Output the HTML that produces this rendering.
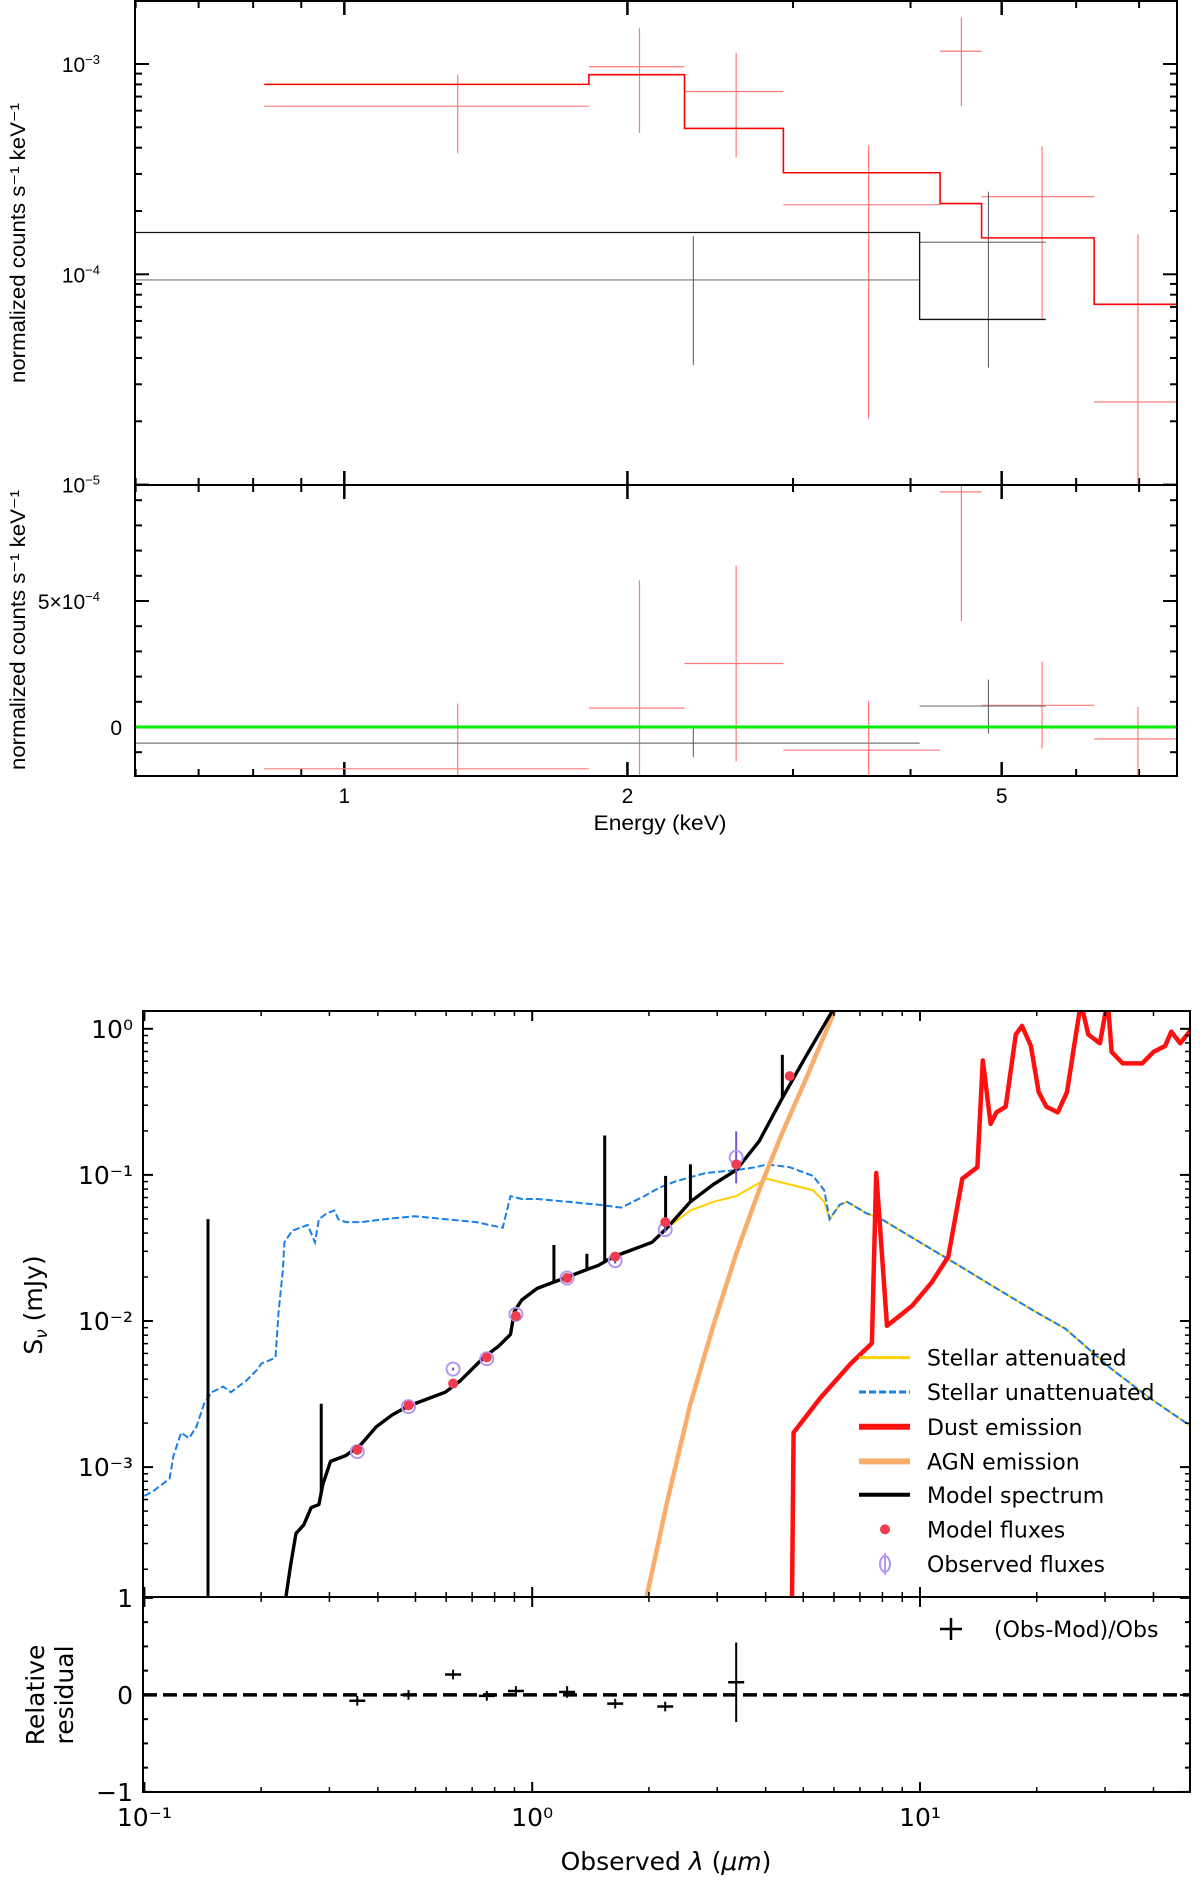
<!DOCTYPE html>
<html><head><meta charset="utf-8"><style>
html,body{margin:0;padding:0;background:#fff}
svg{display:block}
</style></head><body>
<svg id="chart" width="1200" height="1904" viewBox="0 0 1200 1904" xmlns="http://www.w3.org/2000/svg">
<defs>
<clipPath id="cxt"><rect x="135" y="1" width="1042" height="484"/></clipPath>
<clipPath id="cxb"><rect x="135" y="485" width="1042" height="291"/></clipPath>
<clipPath id="cst"><rect x="143" y="1011" width="1047" height="586"/></clipPath>
<clipPath id="csb"><rect x="143" y="1597" width="1047" height="195"/></clipPath>
</defs>
<g id="xray" font-family="Liberation Sans, sans-serif" font-size="20"></g>
<g id="sed" font-family="DejaVu Sans, sans-serif"></g>
</svg>
<script>
// ===== X-ray spectrum data =====
const redModelEdges=[0.822,1.82,2.30,2.93,4.30,4.76,6.27,7.68];
const redModelVals=[8.0e-4,8.9e-4,4.94e-4,3.04e-4,2.17e-4,1.49e-4,7.2e-5];
const blackModelEdges=[0.599,4.09,5.57];
const blackModelVals=[1.58e-4,6.1e-5];
const redLo=[0.822,1.82,2.30,2.93,4.30,4.76,6.27];
const redHi=[1.82,2.30,2.93,4.30,4.76,6.27,7.68];
const redE=[1.32,2.06,2.61,3.61,4.53,5.52,6.98];
const redV=[6.3e-4,9.7e-4,7.4e-4,2.14e-4,1.15e-3,2.34e-4,2.47e-5];
const redVlo=[3.76e-4,4.7e-4,3.6e-4,2.06e-5,6.3e-4,6.1e-5,5e-6];
const redVhi=[8.9e-4,1.48e-3,1.13e-3,4.1e-4,1.66e-3,4.06e-4,1.55e-4];
const blkLo=[0.599,4.09];
const blkHi=[4.09,5.57];
const blkE=[2.35,4.84];
const blkV=[9.4e-5,1.42e-4];
const blkVlo=[3.7e-5,3.6e-5];
const blkVhi=[1.52e-4,2.47e-4];
const redR=[-1.66e-4,0.75e-4,2.52e-4,-0.92e-4,9.33e-4,0.86e-4,-0.47e-4];
const redRlo=[-3e-4,-3e-4,-1.36e-4,-3e-4,4.2e-4,-0.86e-4,-3e-4];
const redRhi=[0.93e-4,5.82e-4,6.4e-4,1.03e-4,1.2e-3,2.59e-4,0.8e-4];
const blkR=[-0.64e-4,0.83e-4];
const blkRlo=[-1.2e-4,-0.26e-4];
const blkRhi=[-0.06e-4,1.88e-4];
const xrXTicks=[1,2,5];
const xrXTickLabels=["1","2","5"];
const xrXMinor=[0.6,0.7,0.8,0.9,3,4,6,7];

// ===== SED data (log10 wavelength in µm, log10 flux in mJy) =====
const unattLogLam=[-1.00,-0.974,-0.935,-0.925,-0.905,-0.885,-0.866,-0.846,-0.826,-0.797,-0.777,-0.737,-0.708,-0.698,-0.678,-0.662,-0.654,-0.643,-0.639,-0.619,-0.599,-0.579,-0.560,-0.550,-0.530,-0.510,-0.500,-0.481,-0.441,-0.382,-0.303,-0.224,-0.145,-0.076,-0.056,-0.027,0.013,0.092,0.171,0.230,0.289,0.329,0.368,0.447,0.526,0.576,0.605,0.664,0.724,0.753,0.767,0.793,0.812,0.862,0.901,1.000,1.099,1.197,1.296,1.375,1.494,1.592,1.701];
const unattLogFlux=[-3.198,-3.158,-3.079,-2.921,-2.764,-2.803,-2.724,-2.566,-2.487,-2.448,-2.487,-2.408,-2.329,-2.290,-2.270,-2.250,-1.934,-1.658,-1.461,-1.382,-1.362,-1.342,-1.461,-1.303,-1.263,-1.244,-1.303,-1.323,-1.323,-1.303,-1.283,-1.303,-1.323,-1.362,-1.145,-1.165,-1.165,-1.184,-1.204,-1.224,-1.145,-1.086,-1.046,-0.987,-0.967,-0.947,-0.928,-0.947,-1.007,-1.105,-1.303,-1.204,-1.184,-1.263,-1.303,-1.461,-1.618,-1.777,-1.934,-2.053,-2.329,-2.527,-2.724];
const modelLogLam=[-0.635,-0.623,-0.609,-0.589,-0.570,-0.550,-0.540,-0.520,-0.481,-0.441,-0.402,-0.362,-0.323,-0.264,-0.224,-0.185,-0.125,-0.086,-0.056,-0.046,-0.027,0.013,0.052,0.092,0.131,0.171,0.210,0.250,0.309,0.348,0.408,0.467,0.526,0.585,0.645,0.704,0.773];
const modelLogFlux=[-3.889,-3.672,-3.454,-3.395,-3.277,-3.257,-3.119,-2.961,-2.921,-2.843,-2.724,-2.645,-2.586,-2.527,-2.487,-2.408,-2.250,-2.171,-2.092,-1.934,-1.856,-1.777,-1.737,-1.698,-1.658,-1.619,-1.559,-1.520,-1.461,-1.362,-1.184,-1.066,-0.967,-0.770,-0.474,-0.197,0.118];
const lineLogLam=[-0.836,-0.544,0.056,0.141,0.187,0.344,0.408,0.645];
const lineLogTop=[-1.303,-2.566,-1.480,-1.540,-0.730,-1.007,-0.928,-0.178];
const attTailLogLam=[0.408,0.467,0.526,0.605,0.664,0.724,0.753,0.767,0.793,0.812,0.862];
const attTailLogFlux=[-1.244,-1.184,-1.145,-1.026,-1.066,-1.105,-1.184,-1.303,-1.204,-1.184,-1.263];
const agnLogLam=[0.295,0.348,0.408,0.467,0.526,0.585,0.645,0.704,0.779];
const agnLogFlux=[-3.889,-3.237,-2.566,-2.033,-1.540,-1.105,-0.711,-0.355,0.118];
const dustLogLam=[0.670,0.674,0.743,0.822,0.876,0.887,0.915,0.980,1.030,1.073,1.109,1.148,1.162,1.182,1.197,1.221,1.247,1.263,1.286,1.306,1.326,1.355,1.379,1.395,1.415,1.434,1.464,1.484,1.494,1.523,1.573,1.602,1.632,1.648,1.671,1.701];
const dustLogFlux=[-3.889,-2.764,-2.527,-2.290,-2.152,-0.987,-2.033,-1.895,-1.737,-1.559,-1.026,-0.947,-0.217,-0.651,-0.572,-0.533,-0.039,0.020,-0.118,-0.434,-0.533,-0.572,-0.434,-0.158,0.178,-0.039,-0.099,0.197,-0.158,-0.237,-0.237,-0.158,-0.118,-0.020,-0.099,0.000];
const bandLogLam=[-0.451,-0.319,-0.204,-0.117,-0.042,0.090,0.214,0.343,0.526];
const modelFluxLogLam=[-0.451,-0.319,-0.204,-0.117,-0.042,0.090,0.214,0.343,0.526,0.664];
const modelFluxLog=[-2.882,-2.578,-2.428,-2.250,-1.966,-1.706,-1.559,-1.323,-0.928,-0.324];
const obsFluxLog=[-2.894,-2.586,-2.329,-2.258,-1.954,-1.706,-1.587,-1.374,-0.880];
const obsErrDex=[0.01,0.01,0.01,0.01,0.02,0.01,0.02,0.02,0.178];
const residVals=[-0.06,0.0,0.21,-0.01,0.04,0.03,-0.09,-0.12,0.13];
const residErr=[0.03,0.01,0.005,0.01,0.02,0.06,0.04,0.03,0.41];
const sedYTicks=[0,-1,-2,-3];
const sedYTickLabels=["10⁰","10⁻¹","10⁻²","10⁻³"];
const sedXTicks=[-1,0,1];
const sedXTickLabels=["10⁻¹","10⁰","10¹"];
const legendLabels=["Stellar attenuated","Stellar unattenuated","Dust emission","AGN emission","Model spectrum","Model fluxes","Observed fluxes"];

const NS="http://www.w3.org/2000/svg";
function mk(parent,tag,attrs,text){const e=document.createElementNS(NS,tag);for(const k in attrs)e.setAttribute(k,attrs[k]);if(text!==undefined)e.textContent=text;parent.appendChild(e);return e;}

// ===== X-ray axes =====
const L=135,R=1177,T=1,MID=485,B=776;
const xE=E=>344.3+940.5*Math.log10(E);
const yT=v=>64-210.3*(Math.log10(v)+3);
const yB=v=>727-v/5e-4*126;
const gx=document.getElementById('xray');

function xTicks(yTop,yBot){
  xrXTicks.forEach(t=>{const x=xE(t);
    let e=mk(gx,'line',{x1:x,x2:x,y1:yTop,y2:yTop+14,stroke:'#000','stroke-width':2.5});
    
    e=mk(gx,'line',{x1:x,x2:x,y1:yBot,y2:yBot-14,stroke:'#000','stroke-width':2.5});
    });
  xrXMinor.forEach(t=>{const x=xE(t);
    let e=mk(gx,'line',{x1:x,x2:x,y1:yTop,y2:yTop+7,stroke:'#000','stroke-width':2});
    
    e=mk(gx,'line',{x1:x,x2:x,y1:yBot,y2:yBot-7,stroke:'#000','stroke-width':2});
    });
}
xTicks(T,MID);xTicks(MID,B);
for(let d=-5;d<=-3;d++){for(let m=1;m<10;m++){const v=m*Math.pow(10,d);const y=yT(v);if(y<T||y>MID)continue;const len=m===1?14:7;
  let e=mk(gx,'line',{x1:L,x2:L+len,y1:y,y2:y,stroke:'#000','stroke-width':2});
  
  e=mk(gx,'line',{x1:R,x2:R-len,y1:y,y2:y,stroke:'#000','stroke-width':2});
  }}
for(let k=-1;k<=9;k++){const v=k*1e-4;const y=yB(v);if(y<MID||y>B)continue;const len=(k===0||k===5)?14:7;
  let e=mk(gx,'line',{x1:L,x2:L+len,y1:y,y2:y,stroke:'#000','stroke-width':2});
  
  e=mk(gx,'line',{x1:R,x2:R-len,y1:y,y2:y,stroke:'#000','stroke-width':2});
  }

[[-3,"10","−3"],[-4,"10","−4"],[-5,"10","−5"]].forEach(a=>{const y=yT(Math.pow(10,a[0]));
  const t=mk(gx,'text',{x:100,y:y+8,'text-anchor':'end','font-size':21});
  
  mk(t,'tspan',{},a[1]);mk(t,'tspan',{dy:-8,'font-size':13},a[2]);});
{let t=mk(gx,'text',{x:100,y:yB(5e-4)+8,'text-anchor':'end','font-size':21});
 
 mk(t,'tspan',{},"5×10");mk(t,'tspan',{dy:-8,'font-size':13},"−4");
 t=mk(gx,'text',{x:122,y:yB(0)+8,'text-anchor':'end','font-size':21},"0");
 }
xrXTicks.forEach((v,i)=>{const t=mk(gx,'text',{x:xE(v),y:803,'text-anchor':'middle','font-size':21},xrXTickLabels[i]);
  });
{let t=mk(gx,'text',{x:660,y:830,'text-anchor':'middle','font-size':21,textLength:133,lengthAdjust:'spacingAndGlyphs'},"Energy (keV)");
 
 t=mk(gx,'text',{x:0,y:0,transform:'translate(25,243) rotate(-90)','text-anchor':'middle','font-size':21,textLength:280,lengthAdjust:'spacingAndGlyphs'},"normalized counts s⁻¹ keV⁻¹");
 
 t=mk(gx,'text',{x:0,y:0,transform:'translate(25,630) rotate(-90)','text-anchor':'middle','font-size':21,textLength:280,lengthAdjust:'spacingAndGlyphs'},"normalized counts s⁻¹ keV⁻¹");
 }

const gtop=mk(gx,'g',{'clip-path':'url(#cxt)'});

function stepPath(edges,vals,yf){let d='';vals.forEach((v,i)=>{const y=yf(v);d+=(i?'L':'M')+xE(edges[i])+','+y+'L'+xE(edges[i+1])+','+y;});return d;}
redLo.forEach((lo,i)=>{
  let e=mk(gtop,'line',{x1:xE(lo),x2:xE(redHi[i]),y1:yT(redV[i]),y2:yT(redV[i]),stroke:'#ff7a7a','stroke-width':1.2});
  
  e=mk(gtop,'line',{x1:xE(redE[i]),x2:xE(redE[i]),y1:yT(redVlo[i]),y2:yT(redVhi[i]),stroke:'#ff7a7a','stroke-width':1.2});
  });
blkLo.forEach((lo,i)=>{
  let e=mk(gtop,'line',{x1:xE(lo),x2:xE(blkHi[i]),y1:yT(blkV[i]),y2:yT(blkV[i]),stroke:'#777','stroke-width':1.2});
  
  e=mk(gtop,'line',{x1:xE(blkE[i]),x2:xE(blkE[i]),y1:yT(blkVlo[i]),y2:yT(blkVhi[i]),stroke:'#555','stroke-width':1});
  });
{let e=mk(gtop,'path',{d:stepPath(blackModelEdges,blackModelVals,yT),fill:'none',stroke:'#111','stroke-width':1.3});
 
 e=mk(gtop,'path',{d:stepPath(redModelEdges,redModelVals,yT),fill:'none',stroke:'#f00','stroke-width':1.6});
 }

const gbot=mk(gx,'g',{'clip-path':'url(#cxb)'});

redLo.forEach((lo,i)=>{
  let e=mk(gbot,'line',{x1:xE(lo),x2:xE(redHi[i]),y1:yB(redR[i]),y2:yB(redR[i]),stroke:'#ff7a7a','stroke-width':1.2});
  
  e=mk(gbot,'line',{x1:xE(redE[i]),x2:xE(redE[i]),y1:yB(redRlo[i]),y2:yB(redRhi[i]),stroke:'#ff7a7a','stroke-width':1.2});
  });
blkLo.forEach((lo,i)=>{
  let e=mk(gbot,'line',{x1:xE(lo),x2:xE(blkHi[i]),y1:yB(blkR[i]),y2:yB(blkR[i]),stroke:'#777','stroke-width':1.2});
  
  e=mk(gbot,'line',{x1:xE(blkE[i]),x2:xE(blkE[i]),y1:yB(blkRlo[i]),y2:yB(blkRhi[i]),stroke:'#555','stroke-width':1});
  });
{let e=mk(gbot,'line',{x1:L,x2:R,y1:yB(0),y2:yB(0),stroke:'#00ee00','stroke-width':3});
 }
{let e=mk(gx,'rect',{x:L,y:T,width:R-L,height:B-T,fill:'none',stroke:'#000','stroke-width':2});
 
 e=mk(gx,'line',{x1:L,x2:R,y1:MID,y2:MID,stroke:'#000','stroke-width':2});
 }

// ===== SED =====
const SL=143,SR=1190,ST=1011,SM=1597,SB=1792;
const xL=l=>532.2+387.8*l;
const yF=f=>1028.8-146.1*f;
const yR=r=>1694.9-97*r;
const gs=document.getElementById('sed');
const gst=mk(gs,'g',{'clip-path':'url(#cst)'});

function linePath(ls,fs){return ls.map((l,i)=>(i?'L':'M')+xL(l).toFixed(1)+','+yF(fs[i]).toFixed(1)).join('');}
const attLam=modelLogLam.slice(0,30).concat(attTailLogLam).concat(unattLogLam.slice(54));
const attFlux=modelLogFlux.slice(0,30).concat(attTailLogFlux).concat(unattLogFlux.slice(54));
{let e=mk(gst,'path',{d:linePath(attLam,attFlux),fill:'none',stroke:'#ffd000','stroke-width':2});
 
 e=mk(gst,'path',{d:linePath(unattLogLam,unattLogFlux),fill:'none',stroke:'#1a7fe8','stroke-width':2,'stroke-dasharray':'7,3'});
 
 e=mk(gst,'path',{d:linePath(dustLogLam,dustLogFlux),fill:'none',stroke:'#ff1010','stroke-width':4.5,'stroke-linejoin':'round'});
 
 e=mk(gst,'path',{d:linePath(agnLogLam,agnLogFlux),fill:'none',stroke:'#f8ad6a','stroke-width':4.5});
 
 e=mk(gst,'path',{d:linePath(modelLogLam,modelLogFlux),fill:'none',stroke:'#000','stroke-width':3.4,'stroke-linejoin':'round'});
 }
function interp(ls,fs,l){if(l<=ls[0])return -5;for(let i=1;i<ls.length;i++){if(l<=ls[i]){const t=(l-ls[i-1])/(ls[i]-ls[i-1]);return fs[i-1]+t*(fs[i]-fs[i-1]);}}return fs[fs.length-1];}
lineLogLam.forEach((l,i)=>{const base=interp(modelLogLam,modelLogFlux,l);
  const e=mk(gst,'line',{x1:xL(l),x2:xL(l),y1:yF(base),y2:yF(lineLogTop[i]),stroke:'#000','stroke-width':3});
  });
bandLogLam.forEach((l,i)=>{const x=xL(l),y=yF(obsFluxLog[i]);
  let e=mk(gst,'line',{x1:x,x2:x,y1:yF(obsFluxLog[i]-obsErrDex[i]),y2:yF(obsFluxLog[i]+obsErrDex[i]),stroke:'#7a52d8','stroke-width':2});
  
  e=mk(gst,'circle',{cx:x,cy:y,r:6.5,fill:'none',stroke:'#b497f0','stroke-width':2});
  });
modelFluxLogLam.forEach((l,i)=>{const e=mk(gst,'circle',{cx:xL(l),cy:yF(modelFluxLog[i]),r:5,fill:'#f03c50'});
  });

const legY=[1357.6,1392,1426.8,1461.4,1494.8,1529.4,1564];
const g=mk(gs,'g',{});

const hs=[{stroke:'#ffd000',w:3},{stroke:'#1a7fe8',w:3,dash:'7,3'},{stroke:'#ff1010',w:6},{stroke:'#f8ad6a',w:6},{stroke:'#000',w:4}];
legendLabels.forEach((lab,i)=>{const y=legY[i];
  if(i<5){const a={x1:859,x2:910,y1:y,y2:y,stroke:hs[i].stroke,'stroke-width':hs[i].w};if(hs[i].dash)a['stroke-dasharray']=hs[i].dash;
    const e=mk(g,'line',a);}
  else if(i===5){const e=mk(g,'circle',{cx:885,cy:y,r:5,fill:'#f03c50'});}
  else {let e=mk(g,'line',{x1:885,x2:885,y1:y-11,y2:y+11,stroke:'#b497f0','stroke-width':2});
    e=mk(g,'ellipse',{cx:885,cy:y,rx:5,ry:8,fill:'none',stroke:'#b497f0','stroke-width':2});}
  const t=mk(g,'text',{x:927,y:y+8,'font-size':22},lab);
  });

const gsb=mk(gs,'g',{'clip-path':'url(#csb)'});

{const e=mk(gsb,'line',{x1:SL,x2:SR,y1:yR(0),y2:yR(0),stroke:'#000','stroke-width':3.5,'stroke-dasharray':'14,6'});
 }
bandLogLam.forEach((l,i)=>{const x=xL(l),y=yR(residVals[i]);
  let e=mk(gsb,'line',{x1:x-8,x2:x+8,y1:y,y2:y,stroke:'#000','stroke-width':2.5});
  
  e=mk(gsb,'line',{x1:x,x2:x,y1:yR(residVals[i]+Math.max(residErr[i],0.05)),y2:yR(residVals[i]-Math.max(residErr[i],0.05)),stroke:'#000','stroke-width':2});
  });
{let e=mk(gs,'line',{x1:951,x2:951,y1:1618,y2:1640,stroke:'#000','stroke-width':2.5});
 
 e=mk(gs,'line',{x1:940,x2:962,y1:1629,y2:1629,stroke:'#000','stroke-width':2.5});
 
 const t=mk(gs,'text',{x:994,y:1637,'font-size':22},"(Obs-Mod)/Obs");
 }

for(let d=-2;d<=1;d++){for(let m=1;m<10;m++){const l=d+Math.log10(m);const x=xL(l);if(x<SL||x>SR)continue;const len=m===1?10:5;
  [[ST,1],[SM,-1],[SM,1],[SB,-1]].forEach(p=>{const e=mk(gs,'line',{x1:x,x2:x,y1:p[0],y2:p[0]+p[1]*len,stroke:'#000','stroke-width':m===1?2:1.5});
    });}}
for(let d=-4;d<=0;d++){for(let m=1;m<10;m++){const f=d+Math.log10(m);const y=yF(f);if(y<ST||y>SM)continue;const len=m===1?10:5;
  let e=mk(gs,'line',{x1:SL,x2:SL+len,y1:y,y2:y,stroke:'#000','stroke-width':m===1?2:1.5});
  
  e=mk(gs,'line',{x1:SR,x2:SR-len,y1:y,y2:y,stroke:'#000','stroke-width':m===1?2:1.5});
  }}
for(let k=-4;k<=4;k++){const r=k/4;const y=yR(r);const len=(k%4===0)?10:5;
  let e=mk(gs,'line',{x1:SL,x2:SL+len,y1:y,y2:y,stroke:'#000','stroke-width':2});
  
  e=mk(gs,'line',{x1:SR,x2:SR-len,y1:y,y2:y,stroke:'#000','stroke-width':2});
  }
sedYTicks.forEach((f,i)=>{const t=mk(gs,'text',{x:133,y:yF(f)+9,'text-anchor':'end','font-size':25},sedYTickLabels[i]);
  });
[[1,"1"],[0,"0"],[-1,"−1"]].forEach(a=>{const t=mk(gs,'text',{x:133,y:yR(a[0])+9,'text-anchor':'end','font-size':25},a[1]);
  });
sedXTicks.forEach((l,i)=>{const t=mk(gs,'text',{x:xL(l),y:1826,'text-anchor':'middle','font-size':25},sedXTickLabels[i]);
  });
{let t=mk(gs,'text',{x:666,y:1870,'text-anchor':'middle','font-size':25});
 
 mk(t,'tspan',{},"Observed ");mk(t,'tspan',{'font-style':'italic'},"λ");mk(t,'tspan',{}," (");mk(t,'tspan',{'font-style':'italic'},"μm");mk(t,'tspan',{},")");
 t=mk(gs,'text',{x:0,y:0,transform:'translate(42,1305) rotate(-90)','text-anchor':'middle','font-size':25});
 
 mk(t,'tspan',{},"S");mk(t,'tspan',{'font-size':17,dy:5,'font-style':'italic'},"ν");mk(t,'tspan',{dy:-5}," (mJy)");
 t=mk(gs,'text',{x:0,y:0,transform:'translate(44,1695) rotate(-90)','text-anchor':'middle','font-size':25},"Relative");
 
 t=mk(gs,'text',{x:0,y:0,transform:'translate(73,1695) rotate(-90)','text-anchor':'middle','font-size':25},"residual");
 
 let e=mk(gs,'rect',{x:SL,y:ST,width:SR-SL,height:SB-ST,fill:'none',stroke:'#000','stroke-width':2});
 
 e=mk(gs,'line',{x1:SL,x2:SR,y1:SM,y2:SM,stroke:'#000','stroke-width':2});
 }
</script>
</body></html>
